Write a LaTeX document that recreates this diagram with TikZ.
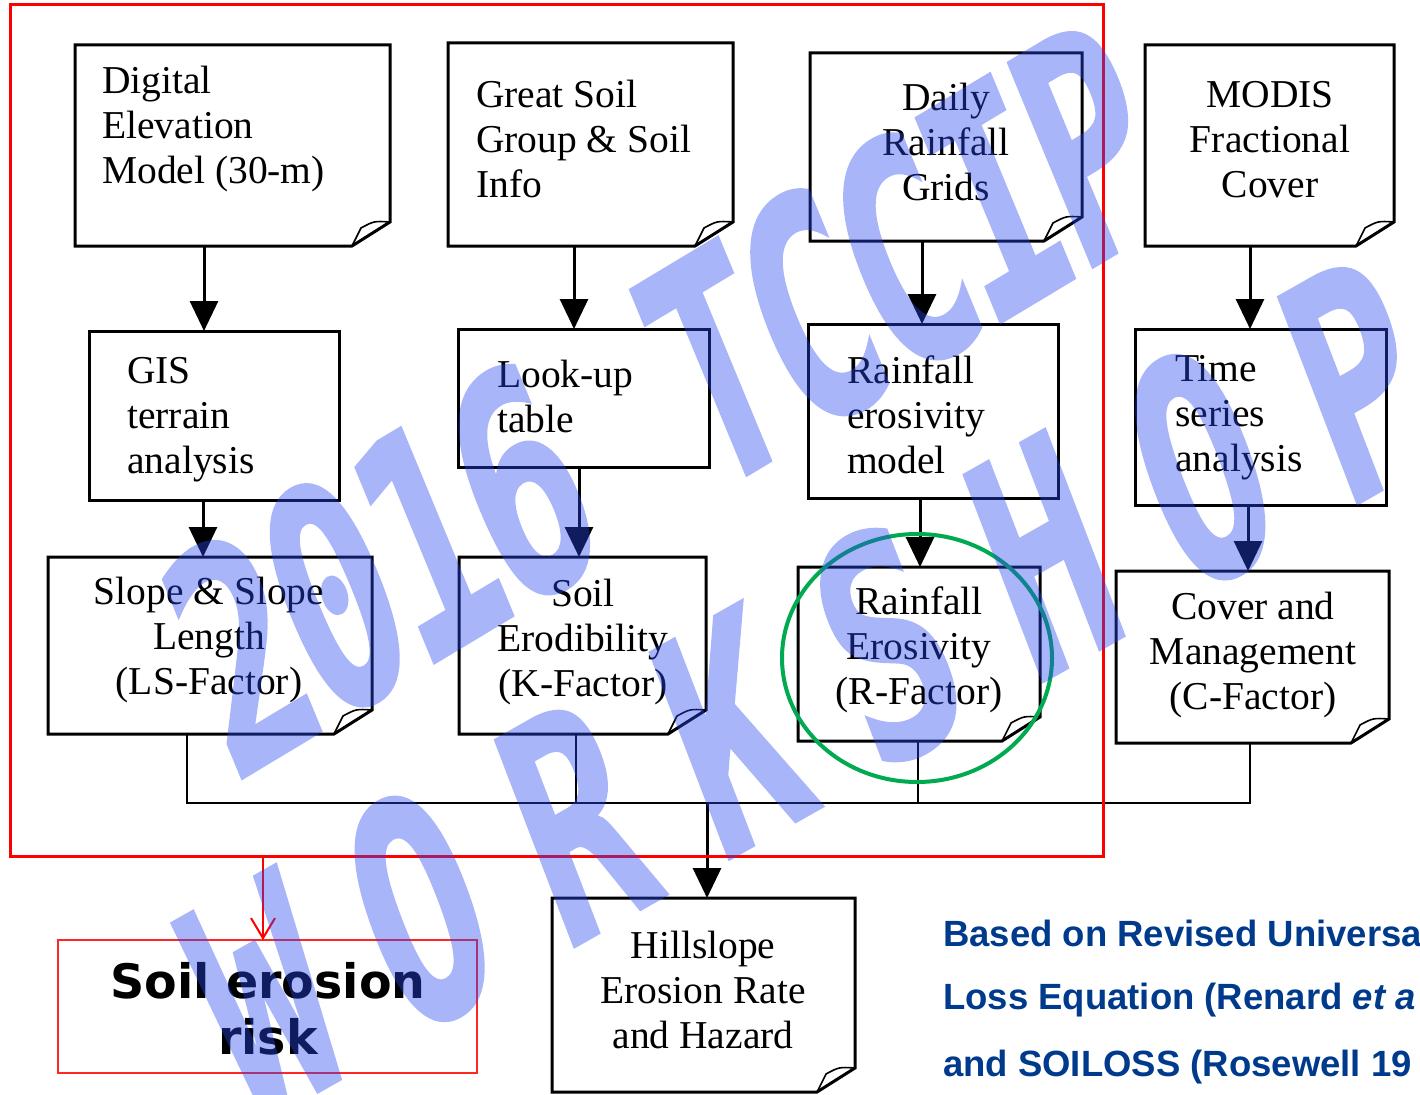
\documentclass[tikz,border=0pt]{standalone}
\usepackage{fontspec}
\setmainfont{Liberation Serif}
\newfontfamily\notefont{Liberation Sans}
\newfontfamily\riskfont{DejaVu Sans}
\newfontfamily\stampfont[FakeBold=1]{DejaVu Sans Mono Bold}
\usetikzlibrary{arrows.meta}

\definecolor{notered}{RGB}{255,0,0}
\definecolor{ringgreen}{RGB}{0,170,80}
\definecolor{notenavy}{RGB}{0,58,140}
\definecolor{stampblue}{RGB}{42,72,242}

% page outline with the folded corner
\newcommand{\docframe}[1]{%
  \draw[frameline] (#1.north west) -- (#1.north east) -- ([yshift=24pt]#1.south east)
    -- ([xshift=-38pt]#1.south east) -- (#1.south west) -- cycle;
  \draw[frameline, line width=1.6pt] ([xshift=-38pt]#1.south east) -- ([xshift=-29pt,yshift=18pt]#1.south east)
    .. controls ([xshift=-16pt,yshift=25pt]#1.south east) .. ([yshift=24pt]#1.south east);
}

\begin{document}
\begin{tikzpicture}[
    x=1pt, y=-1pt,
    frameline/.style={draw, line width=3pt},
    plainbox/.style={draw, line width=3pt, inner sep=0pt, outer sep=0pt},
    docbox/.style={inner sep=0pt, outer sep=0pt},
    boxtext/.style={inner sep=0pt, font=\fontsize{39.5}{45}\selectfont},
    arr/.style={line width=3pt, -{Triangle[length=30pt,width=28pt]}},
    link/.style={line width=2.6pt},
    redarr/.style={draw=notered, line width=2pt, -{Straight Barb[length=20pt,width=24pt]}},
    note/.style={inner sep=0pt, anchor=west, text=notenavy,
        font=\notefont\bfseries\fontsize{36.5}{40}\selectfont},
    stamp/.style={inner sep=0pt, text=stampblue,
        font=\stampfont\fontsize{200}{200}\selectfont,
        rotate=#1, xslant=0.15, yscale=1.5}
]

\useasboundingbox (0,0) rectangle (1420,1094);
\clip (0,0) rectangle (1420,1094);
\fill[white] (0,0) rectangle (1420,1094);

% top row
\node[docbox, minimum width=315pt, minimum height=201pt] (dem) at (232.5,145.5) {};
\node[docbox, minimum width=285pt, minimum height=203pt] (soil) at (590.5,144.5) {};
\node[docbox, minimum width=272pt, minimum height=188pt] (rain) at (946,147) {};
\node[docbox, minimum width=249pt, minimum height=201pt] (modis) at (1269.5,145.5) {};

% middle row
\node[plainbox, minimum width=250pt, minimum height=169pt] (gis) at (214,415.5) {};
\node[plainbox, minimum width=251pt, minimum height=138pt] (lookup) at (583.5,398) {};
\node[plainbox, minimum width=250pt, minimum height=174pt] (model) at (933,411) {};
\node[plainbox, minimum width=251pt, minimum height=176pt] (series) at (1260.5,417) {};

% factor row
\node[docbox, minimum width=324pt, minimum height=177pt] (ls) at (210,645.5) {};
\node[docbox, minimum width=247pt, minimum height=177pt] (kf) at (582.5,645.5) {};
\node[docbox, minimum width=242pt, minimum height=174pt] (rf) at (919,654) {};
\node[docbox, minimum width=273pt, minimum height=172pt] (cf) at (1252.5,657) {};

% result
\node[docbox, minimum width=303pt, minimum height=194pt] (hill) at (703.5,995) {};

\foreach \n in {dem,soil,rain,modis,ls,kf,rf,cf,hill}{
    \docframe{\n}
}

% texts
\node[boxtext, anchor=west, align=left] (dem-t) at (102,129) {Digital\\Elevation\\Model (30-m)};
\node[boxtext, anchor=west, align=left] (soil-t) at (476,139) {Great Soil\\Group \& Soil\\Info};
\node[boxtext, align=center] (rain-t) at (946,142) {Daily\\Rainfall\\Grids};
\node[boxtext, align=center] (modis-t) at (1270,140) {MODIS\\Fractional\\Cover};
\node[boxtext, anchor=west, align=left] (gis-t) at (127,420) {GIS\\terrain\\analysis};
\node[boxtext, anchor=west, align=left] (lookup-t) at (497,396) {Look-up\\table};
\node[boxtext, anchor=west, align=left] (model-t) at (847,415) {Rainfall\\erosivity\\model};
\node[boxtext, anchor=west, align=left] (series-t) at (1175,418) {Time\\series\\analysis};
\node[boxtext, align=center] (ls-t) at (209,640) {Slope \& Slope\\Length\\(LS-Factor)};
\node[boxtext, align=center] (kf-t) at (583,642) {Soil\\Erodibility\\(K-Factor)};
\node[boxtext, align=center] (rf-t) at (919,650) {Rainfall\\Erosivity\\(R-Factor)};
\node[boxtext, align=center] (cf-t) at (1253,655) {Cover and\\Management\\(C-Factor)};
\node[boxtext, align=center] (hill-t) at (703,990) {Hillslope\\Erosion Rate\\and Hazard};

% arrows
\draw[arr] (204,0 |- dem.south) -- (204,0 |- gis.north);
\draw[arr] (574,0 |- soil.south) -- (574,0 |- lookup.north);
\draw[arr] (922,0 |- rain.south) -- (922,0 |- model.north);
\draw[arr] (1250,0 |- modis.south) -- (1250,0 |- series.north);
\draw[arr] (203,0 |- gis.south) -- (203,0 |- ls.north);
\draw[arr] (579,0 |- lookup.south) -- (579,0 |- kf.north);
\draw[arr] (920,0 |- model.south) -- (920,0 |- rf.north);
\draw[arr] (1248,0 |- series.south) -- (1248,0 |- cf.north);

% collector
\coordinate (join) at (707,803);
\draw[link] (187,0 |- ls.south) -- (187,803) -- (1250,803) -- (1250,0 |- cf.south);
\draw[link] (576,0 |- kf.south) -- (576,803);
\draw[link] (918,0 |- rf.south) -- (918,803);
\draw[arr] (join) -- (join |- hill.north);

% red frame and risk box
\node[draw=notered, line width=3pt, inner sep=0pt, outer sep=0pt,
    minimum width=1093pt, minimum height=851pt] (area) at (556.5,430.5) {};
\node[draw=notered!85, line width=1.2pt, inner sep=0pt, outer sep=0pt,
    minimum width=419pt, minimum height=133pt] (risk) at (267.5,1006.5) {};
\node[inner sep=0pt, align=center, font=\riskfont\bfseries\fontsize{47.5}{56}\selectfont]
    (risk-t) at (268,1009) {Soil erosion\\risk};
\draw[redarr] (263,0 |- area.south) -- (263,0 |- risk.north);

% highlight
\draw[ringgreen, line width=4pt] ([xshift=-2pt,yshift=-4pt]rf.center) ellipse [x radius=135, y radius=124];

% source note
\node[note] (note1) at (943,933) {Based on Revised Universa};
\node[note] (note2) at (943,1000) {Loss Equation (Renard {\itshape et a}};
\node[note] (note3) at (943,1067) {and SOILOSS (Rosewell 19};

% watermark
\begin{scope}[transparency group, opacity=0.4]
\node[stamp=31] (stamp1) at (665,397) {\addfontfeature{LetterSpace=-6}2016 TCCIP};
\node[stamp=29.5] (stamp2) at (810,688) {\addfontfeature{LetterSpace=29.5}WORKSHOP};
\end{scope}

\end{tikzpicture}
\end{document}
